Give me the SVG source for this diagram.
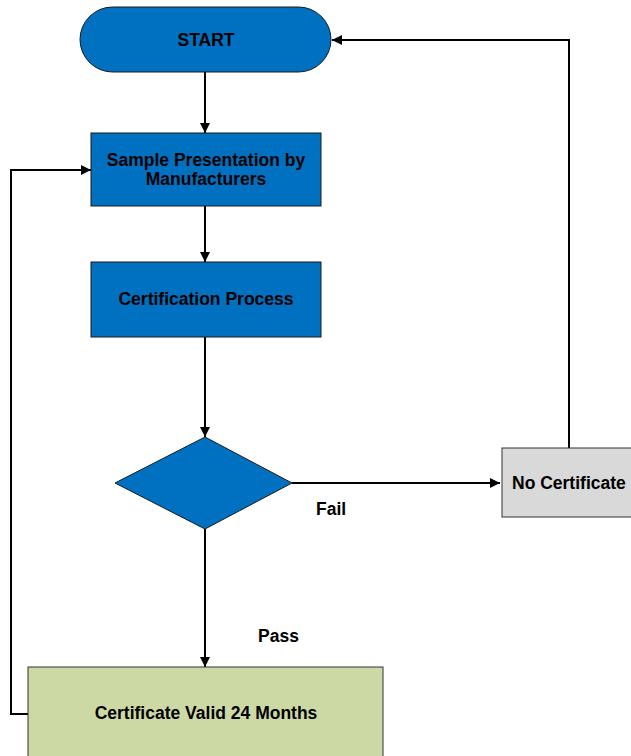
<svg xmlns="http://www.w3.org/2000/svg" width="631" height="756" viewBox="0 0 631 756">
  <defs>
    <marker id="arrow" markerWidth="10" markerHeight="10" refX="10" refY="5" orient="auto" markerUnits="userSpaceOnUse">
      <path d="M0,0 L10,5 L0,10 Z" fill="#000"/>
    </marker>
    <style>
      .blue { fill: #0070c0; stroke: #1a1a1a; stroke-width: 1; }
      .gray { fill: #d9d9d9; stroke: #333; stroke-width: 1; }
      .green { fill: #cdd9a5; stroke: #333; stroke-width: 1; }
      .lbl { font-family: "Liberation Sans", Arial, sans-serif; font-weight: bold; font-size: 17.5px; fill: #000; }
      .mid { text-anchor: middle; }
      .conn { fill: none; stroke: #000; stroke-width: 2; }
    </style>
  </defs>
  <rect width="631" height="756" fill="#fff"/>

  <g id="connectors">
    <line class="conn" x1="205" y1="72" x2="205" y2="133" marker-end="url(#arrow)"/>
    <line class="conn" x1="205" y1="206" x2="205" y2="262" marker-end="url(#arrow)"/>
    <line class="conn" x1="205" y1="337" x2="205" y2="437" marker-end="url(#arrow)"/>
    <line class="conn" x1="205" y1="529" x2="205" y2="667" marker-end="url(#arrow)"/>
    <line class="conn" x1="292" y1="483" x2="500" y2="483" marker-end="url(#arrow)"/>
    <polyline class="conn" points="569,448 569,40 332,40" marker-end="url(#arrow)"/>
    <polyline class="conn" points="28,714 11,714 11,170 91,170" marker-end="url(#arrow)"/>
    <text class="lbl" x="316" y="515">Fail</text>
    <text class="lbl" x="258" y="642">Pass</text>
  </g>

  <g id="start">
    <rect class="blue" x="80" y="7" width="251" height="65" rx="32.5" ry="32.5"/>
    <text class="lbl mid" x="206" y="46">START</text>
  </g>

  <g id="sample">
    <rect class="blue" x="91" y="133" width="230" height="73"/>
    <text class="lbl mid" x="206" y="166">Sample Presentation by</text>
    <text class="lbl mid" x="206" y="185">Manufacturers</text>
  </g>

  <g id="process">
    <rect class="blue" x="91" y="262" width="230" height="75"/>
    <text class="lbl mid" x="206" y="305">Certification Process</text>
  </g>

  <g id="decision">
    <polygon class="blue" points="205,437 292,483 205,529 115,483"/>
  </g>

  <g id="no-certificate">
    <rect class="gray" x="502" y="448" width="135" height="69"/>
    <text class="lbl" x="512" y="489">No Certificate</text>
  </g>

  <g id="certificate">
    <rect class="green" x="28" y="667" width="355" height="100"/>
    <text class="lbl mid" x="206" y="719">Certificate Valid 24 Months</text>
  </g>
</svg>
